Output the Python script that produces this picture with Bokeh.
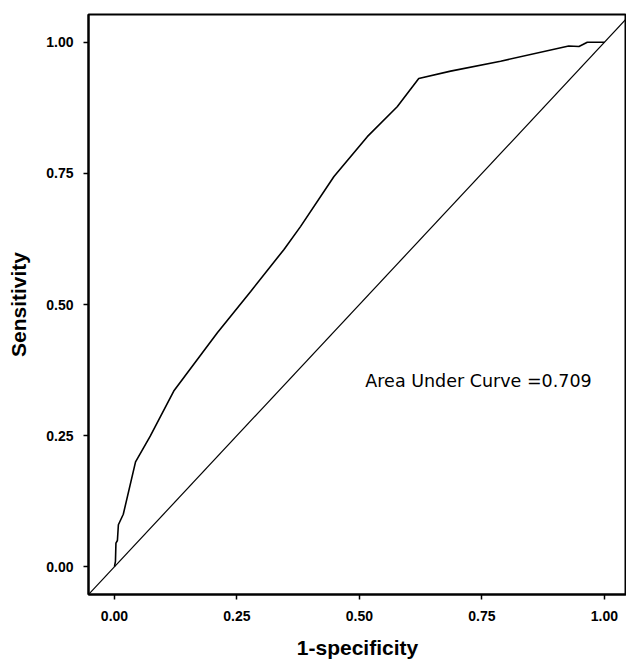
from bokeh.plotting import figure
from bokeh.models import Range1d, FixedTicker, Label
from bokeh.embed import file_html
from bokeh.resources import INLINE

# ROC curve points
fpr = [0.0, 0.002, 0.003, 0.006, 0.008, 0.018, 0.043, 0.073, 0.121, 0.21, 0.278,
       0.346, 0.38, 0.448, 0.516, 0.577, 0.621, 0.686, 0.788, 0.927, 0.948, 0.965, 0.995, 1.0]
tpr = [0.0, 0.01, 0.045, 0.05, 0.08, 0.10, 0.20, 0.249, 0.335, 0.446, 0.525,
       0.605, 0.649, 0.744, 0.82, 0.877, 0.931, 0.945, 0.964, 0.993, 0.992, 1.0, 1.0, 1.0]
ref_line = [-0.06, 1.06]
ticks = [0.0, 0.25, 0.5, 0.75, 1.0]
tick_labels = {0.0: "0.00", 0.25: "0.25", 0.5: "0.50", 0.75: "0.75", 1.0: "1.00"}
auc_text = "Area Under Curve =0.709"

p = figure(width=626, height=661, output_backend="svg", toolbar_location=None,
           x_range=Range1d(-0.053, 1.045), y_range=Range1d(-0.053, 1.053),
           min_border_left=88, min_border_right=0, min_border_top=14, min_border_bottom=65)

p.line(fpr, tpr, line_color="black", line_width=1.6)
p.line(ref_line, ref_line, line_color="black", line_width=1.2)

p.xgrid.visible = False
p.ygrid.visible = False
p.outline_line_color = "black"
p.outline_line_width = 2
p.background_fill_color = "white"
p.border_fill_color = "white"

for ax in (p.xaxis[0], p.yaxis[0]):
    ax.ticker = FixedTicker(ticks=ticks)
    ax.major_label_overrides = tick_labels
    ax.minor_tick_line_color = None
    ax.major_tick_out = 5
    ax.major_tick_in = 0
    ax.major_tick_line_width = 1.5
    ax.axis_line_width = 2
    ax.axis_line_color = "black"
    ax.major_label_text_font = "Liberation Sans"
    ax.major_label_text_font_style = "bold"
    ax.major_label_text_font_size = "14px"
    ax.major_label_text_color = "black"
    ax.axis_label_text_font = "Liberation Sans"
    ax.axis_label_text_font_style = "bold"
    ax.axis_label_text_font_size = "21px"
    ax.axis_label_text_color = "black"

p.xaxis.axis_label = "1-specificity"
p.yaxis.axis_label = "Sensitivity"
p.xaxis.major_label_standoff = 11
p.yaxis.major_label_standoff = 10
p.xaxis.axis_label_standoff = 12
p.yaxis.axis_label_standoff = 13

p.add_layout(Label(x=0.512, y=0.355, text=auc_text, text_font="DejaVu Sans",
                   text_font_size="17.5px", text_color="black", text_baseline="middle"))

open("out.html", "w").write(file_html(p, INLINE))
